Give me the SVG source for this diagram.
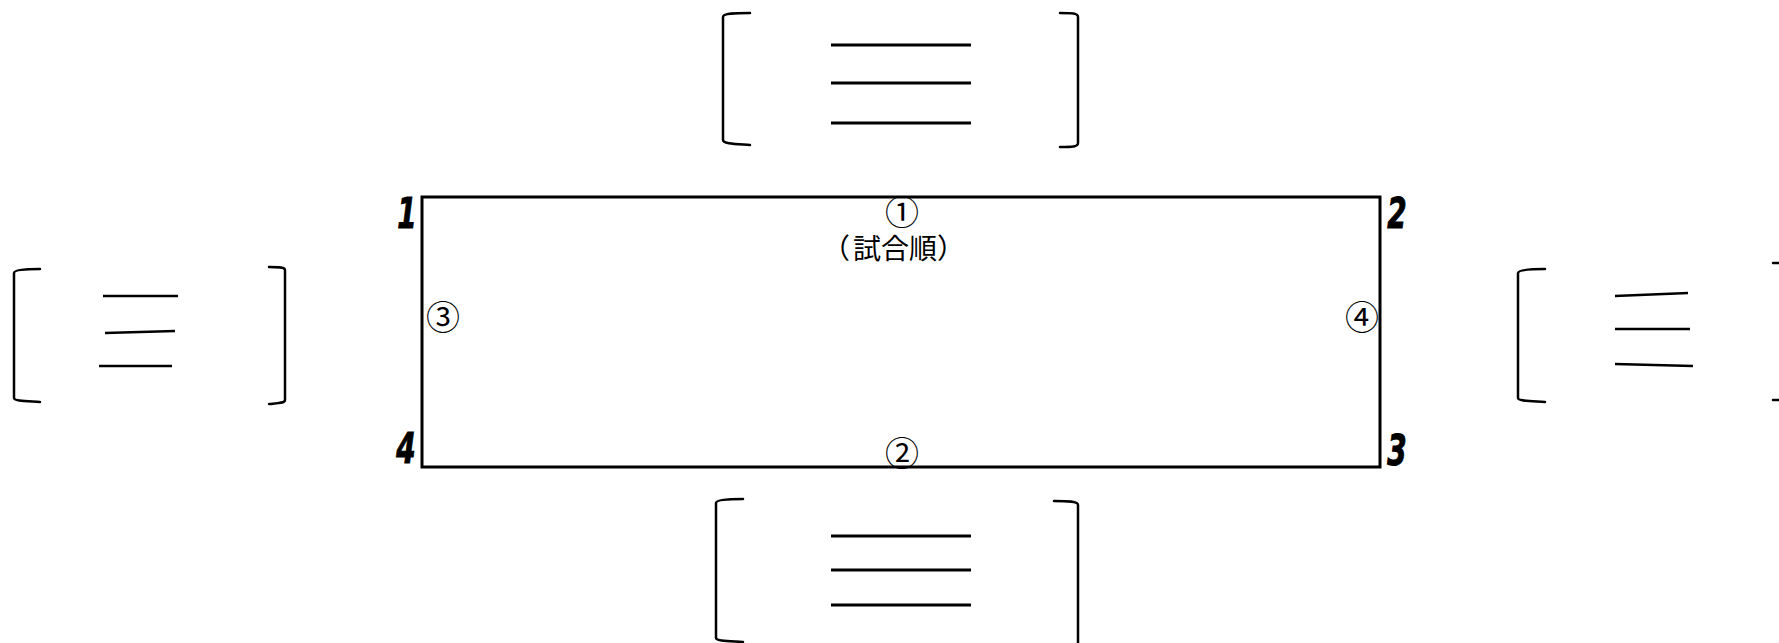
<svg xmlns="http://www.w3.org/2000/svg" width="1779" height="643" viewBox="0 0 1779 643">
<style>
.bk{fill:none;stroke:#000;stroke-width:2.5;stroke-linecap:round;stroke-linejoin:round}
.ln{stroke:#000;stroke-width:3;fill:none}
.ln2{stroke:#000;stroke-width:2.5;fill:none}
.corner{font-family:"DejaVu Sans Condensed","DejaVu Sans","Liberation Sans",sans-serif;font-weight:bold;font-style:italic;font-size:43px;text-anchor:middle;fill:#000;stroke:#000;stroke-width:1}
.circ{font-family:"Noto Sans CJK JP","Noto Sans CJK SC",sans-serif;font-size:34px;text-anchor:middle;dominant-baseline:central;fill:#000}
.lbl{font-family:"Noto Sans CJK JP","Noto Sans CJK SC",sans-serif;font-size:28px;fill:#000}
</style>
<rect width="1779" height="643" fill="#fff"/>
<g id="court">
<rect x="422" y="197" width="958" height="270" fill="none" stroke="#000" stroke-width="3"/>
<text class="corner" transform="translate(407,228) scale(0.72,1)">1</text>
<text class="corner" transform="translate(1397,228) scale(0.72,1)">2</text>
<text class="corner" transform="translate(1397,465) scale(0.72,1)">3</text>
<text class="corner" transform="translate(406,463) scale(0.72,1)">4</text>
<text class="circ" x="902" y="210">①</text>
<text class="lbl" y="259"><tspan x="822">（</tspan><tspan x="853">試合順</tspan><tspan x="937">）</tspan></text>
<text class="circ" x="902" y="451">②</text>
<text class="circ" x="443" y="315">③</text>
<text class="circ" x="1362" y="315">④</text>
</g>
<g id="team-top">
<path class="bk" d="M750,13 C735,13 723,13 723,17 L723,140 C723,144 735,144 750,145"/>
<path class="bk" d="M1060,13 C1072,13 1078,13 1078,17 L1078,143 C1078,147 1072,147 1060,147"/>
<line class="ln" x1="831" y1="45" x2="971" y2="45"/>
<line class="ln" x1="831" y1="83" x2="971" y2="83"/>
<line class="ln" x1="831" y1="123" x2="971" y2="123"/>
</g>
<g id="team-left">
<path class="bk" d="M40,269 C25,269 14,270 14,273 L14,398 C14,401 25,401 40,402"/>
<path class="bk" d="M269,267 C280,267 285,267 285,270 L285,400 C285,403 280,403 269,404"/>
<line class="ln2" x1="103" y1="296" x2="178" y2="296"/>
<line class="ln2" x1="105" y1="333" x2="175" y2="331"/>
<line class="ln2" x1="99" y1="366" x2="172" y2="366"/>
</g>
<g id="team-right">
<path class="bk" d="M1545,269 C1530,269 1518,270 1518,273 L1518,398 C1518,401 1530,401 1545,402"/>
<path class="bk" d="M1773,263 L1790,263 L1790,400 L1773,400"/>
<line class="ln2" x1="1615" y1="296" x2="1688" y2="293"/>
<line class="ln2" x1="1615" y1="329" x2="1690" y2="329"/>
<line class="ln2" x1="1615" y1="364" x2="1693" y2="366"/>
</g>
<g id="team-bottom">
<path class="bk" d="M743,499 C728,499 716,500 716,503 L716,638 C716,641 728,641 743,642"/>
<path class="bk" d="M1054,501 C1068,501 1078,501 1078,505 L1078,645"/>
<line class="ln" x1="831" y1="536" x2="971" y2="536"/>
<line class="ln" x1="831" y1="570" x2="971" y2="570"/>
<line class="ln" x1="831" y1="605" x2="971" y2="605"/>
</g>
<g id="connectors"/>
</svg>
